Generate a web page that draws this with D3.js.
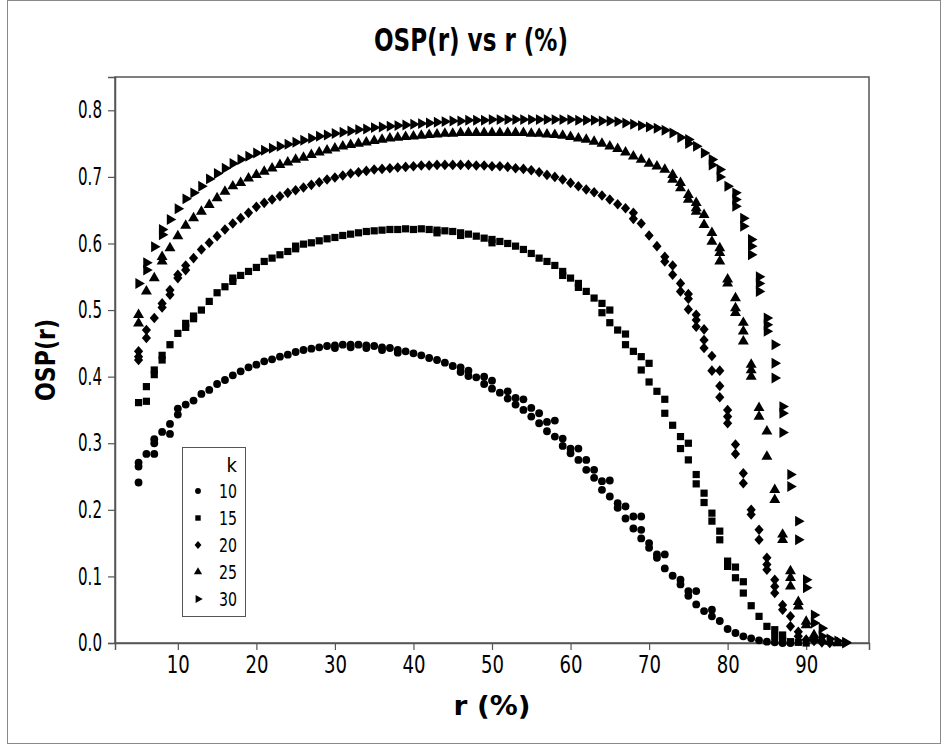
<!DOCTYPE html>
<html>
<head>
<meta charset="utf-8">
<script src="https://cdn.jsdelivr.net/npm/d3@7"></script>
<style>
  body { margin: 0; background: #fff; }
  svg text { font-family: "DejaVu Sans Condensed", "DejaVu Sans", sans-serif; font-stretch: condensed; fill: #000; }
</style>
</head>
<body>
<div id="chart"></div>
<script>
// legend groups
const kLevels = [10, 15, 20, 25, 30];
const xTicks = [10, 20, 30, 40, 50, 60, 70, 80, 90];
const yTicks = [0, 0.1, 0.2, 0.3, 0.4, 0.5, 0.6, 0.7, 0.8];

// [r (%), OSP(r)]
const osp10 = [[5,0.241],[5,0.265],[5,0.271],[6,0.284],[7,0.284],[7,0.300],[7,0.306],[8,0.317],[9,0.314],[9,0.329],[10,0.343],[10,0.352],[11,0.358],[12,0.364],[13,0.374],[14,0.380],[15,0.389],[16,0.395],[17,0.402],[18,0.408],[19,0.414],[20,0.418],[21,0.423],[22,0.426],[23,0.430],[24,0.433],[25,0.437],[26,0.440],[27,0.442],[28,0.444],[29,0.446],[30,0.447],[30,0.443],[31,0.448],[32,0.448],[32,0.444],[33,0.448],[34,0.447],[34,0.443],[35,0.446],[36,0.444],[36,0.440],[37,0.443],[38,0.440],[38,0.436],[39,0.438],[40,0.435],[41,0.432],[42,0.428],[43,0.425],[44,0.421],[45,0.416],[46,0.414],[46,0.407],[47,0.409],[47,0.401],[48,0.399],[49,0.400],[49,0.389],[50,0.394],[50,0.382],[51,0.376],[52,0.378],[52,0.367],[53,0.368],[53,0.358],[54,0.366],[54,0.350],[55,0.353],[55,0.340],[56,0.345],[56,0.330],[57,0.332],[57,0.318],[58,0.334],[58,0.310],[59,0.307],[59,0.296],[60,0.292],[60,0.285],[61,0.292],[61,0.275],[62,0.275],[62,0.260],[63,0.260],[63,0.248],[64,0.243],[64,0.230],[65,0.244],[65,0.220],[66,0.210],[66,0.203],[67,0.205],[67,0.187],[68,0.190],[68,0.172],[69,0.190],[69,0.170],[69,0.157],[70,0.150],[70,0.143],[71,0.133],[71,0.128],[72,0.133],[72,0.112],[73,0.101],[74,0.095],[74,0.088],[75,0.078],[75,0.071],[76,0.078],[76,0.058],[77,0.048],[78,0.050],[78,0.040],[79,0.033],[80,0.021],[81,0.015],[82,0.010],[83,0.007],[84,0.004],[85,0.002],[86,0.001],[87,0.000],[88,0.000]];

const osp15 = [[5,0.361],[6,0.363],[6,0.385],[7,0.403],[7,0.410],[8,0.425],[8,0.432],[9,0.448],[10,0.465],[11,0.474],[11,0.480],[12,0.487],[12,0.491],[13,0.500],[14,0.513],[15,0.526],[16,0.535],[17,0.543],[17,0.548],[18,0.552],[19,0.558],[20,0.564],[21,0.573],[22,0.578],[23,0.583],[24,0.588],[25,0.592],[25,0.596],[26,0.599],[27,0.601],[28,0.604],[29,0.607],[30,0.609],[31,0.612],[32,0.614],[33,0.616],[34,0.618],[35,0.619],[36,0.620],[37,0.621],[38,0.621],[39,0.622],[40,0.621],[41,0.622],[42,0.621],[43,0.620],[43,0.616],[44,0.619],[45,0.618],[46,0.616],[46,0.612],[47,0.614],[48,0.611],[49,0.608],[50,0.606],[50,0.601],[51,0.603],[52,0.600],[53,0.596],[54,0.591],[55,0.585],[56,0.578],[57,0.573],[58,0.567],[59,0.558],[59,0.552],[60,0.548],[61,0.540],[61,0.534],[62,0.528],[63,0.518],[64,0.510],[64,0.496],[65,0.500],[65,0.481],[66,0.470],[67,0.464],[67,0.448],[68,0.438],[69,0.430],[69,0.410],[70,0.420],[70,0.392],[71,0.378],[72,0.366],[72,0.345],[73,0.327],[74,0.310],[74,0.292],[75,0.300],[75,0.275],[76,0.253],[76,0.239],[77,0.225],[77,0.211],[78,0.195],[78,0.183],[79,0.168],[79,0.155],[80,0.123],[80,0.115],[81,0.114],[81,0.098],[82,0.092],[82,0.075],[83,0.056],[84,0.040],[85,0.025],[86,0.020],[86,0.010],[87,0.012],[87,0.004],[88,0.002],[89,0.001],[90,0.000]];

const osp20 = [[5,0.438],[5,0.430],[5,0.425],[6,0.470],[6,0.458],[7,0.488],[8,0.510],[8,0.504],[9,0.530],[9,0.523],[10,0.553],[10,0.548],[11,0.567],[11,0.560],[12,0.578],[13,0.591],[14,0.601],[15,0.611],[16,0.621],[17,0.630],[18,0.638],[19,0.646],[20,0.655],[21,0.661],[22,0.666],[23,0.671],[24,0.676],[25,0.680],[26,0.684],[27,0.688],[28,0.692],[29,0.696],[30,0.699],[31,0.702],[32,0.705],[33,0.707],[34,0.709],[35,0.711],[36,0.712],[37,0.713],[38,0.714],[39,0.715],[40,0.716],[41,0.717],[42,0.717],[43,0.718],[44,0.718],[45,0.718],[46,0.718],[47,0.718],[48,0.717],[49,0.717],[50,0.716],[51,0.716],[52,0.715],[53,0.713],[54,0.712],[55,0.710],[56,0.707],[57,0.703],[58,0.700],[59,0.696],[60,0.691],[61,0.686],[62,0.681],[63,0.677],[64,0.672],[65,0.666],[66,0.659],[67,0.653],[68,0.646],[68,0.637],[69,0.630],[70,0.612],[71,0.596],[72,0.580],[72,0.573],[73,0.567],[73,0.553],[74,0.540],[74,0.528],[75,0.524],[75,0.517],[75,0.501],[76,0.493],[76,0.485],[76,0.475],[77,0.471],[77,0.455],[77,0.443],[78,0.431],[78,0.409],[79,0.409],[79,0.386],[79,0.369],[80,0.350],[80,0.340],[80,0.330],[81,0.298],[81,0.284],[82,0.255],[82,0.240],[83,0.200],[83,0.193],[84,0.170],[84,0.155],[85,0.128],[85,0.118],[85,0.110],[86,0.095],[86,0.085],[86,0.075],[87,0.057],[87,0.050],[88,0.040],[88,0.025],[89,0.017],[89,0.010],[90,0.005],[91,0.003],[92,0.001],[93,0.000]];

const osp25 = [[5,0.493],[5,0.480],[6,0.528],[7,0.548],[8,0.580],[8,0.573],[9,0.593],[10,0.611],[11,0.627],[12,0.638],[13,0.648],[14,0.658],[15,0.668],[16,0.678],[17,0.686],[18,0.691],[19,0.698],[20,0.703],[21,0.708],[22,0.713],[23,0.718],[24,0.722],[25,0.726],[26,0.729],[27,0.733],[28,0.737],[29,0.740],[30,0.743],[31,0.746],[32,0.748],[33,0.750],[34,0.752],[35,0.754],[36,0.756],[37,0.758],[38,0.759],[39,0.760],[40,0.761],[41,0.762],[42,0.763],[43,0.764],[44,0.765],[45,0.765],[46,0.766],[47,0.766],[48,0.766],[49,0.766],[50,0.766],[51,0.766],[52,0.766],[53,0.766],[54,0.766],[55,0.765],[56,0.765],[57,0.764],[58,0.763],[59,0.762],[60,0.760],[61,0.758],[62,0.756],[63,0.753],[64,0.750],[65,0.746],[66,0.742],[67,0.737],[68,0.731],[69,0.726],[70,0.720],[71,0.716],[72,0.711],[73,0.703],[73,0.696],[74,0.691],[74,0.683],[75,0.673],[75,0.666],[76,0.661],[76,0.653],[76,0.648],[77,0.643],[77,0.628],[78,0.616],[78,0.603],[79,0.593],[79,0.586],[79,0.573],[80,0.546],[80,0.540],[81,0.518],[81,0.503],[81,0.496],[82,0.481],[82,0.468],[82,0.453],[83,0.418],[83,0.410],[83,0.400],[84,0.353],[84,0.340],[85,0.318],[85,0.280],[86,0.230],[86,0.215],[87,0.163],[87,0.155],[88,0.108],[88,0.098],[88,0.085],[89,0.062],[89,0.055],[90,0.032],[90,0.027],[91,0.012],[91,0.008],[92,0.005],[93,0.002],[94,0.000]];

const osp30 = [[5,0.540],[6,0.571],[6,0.560],[7,0.595],[8,0.621],[8,0.613],[9,0.636],[10,0.652],[11,0.667],[12,0.676],[13,0.686],[14,0.697],[15,0.705],[16,0.713],[17,0.720],[18,0.726],[19,0.731],[20,0.736],[21,0.740],[22,0.743],[23,0.746],[24,0.749],[25,0.752],[26,0.755],[27,0.758],[28,0.761],[29,0.763],[30,0.765],[31,0.767],[32,0.769],[33,0.771],[34,0.772],[35,0.774],[36,0.775],[37,0.776],[38,0.777],[39,0.778],[40,0.779],[41,0.780],[42,0.781],[43,0.782],[44,0.783],[45,0.784],[46,0.784],[47,0.785],[48,0.785],[49,0.785],[50,0.786],[51,0.786],[52,0.786],[53,0.786],[54,0.786],[55,0.786],[56,0.786],[57,0.786],[58,0.786],[59,0.786],[60,0.786],[61,0.785],[62,0.785],[63,0.785],[64,0.784],[65,0.784],[66,0.783],[67,0.781],[68,0.779],[69,0.777],[70,0.775],[71,0.773],[72,0.770],[73,0.766],[74,0.759],[75,0.756],[75,0.750],[76,0.746],[77,0.736],[78,0.726],[78,0.718],[79,0.711],[79,0.700],[80,0.686],[81,0.676],[81,0.666],[81,0.656],[82,0.638],[82,0.626],[83,0.606],[83,0.596],[83,0.583],[84,0.550],[84,0.540],[84,0.528],[85,0.488],[85,0.478],[85,0.468],[86,0.448],[86,0.420],[86,0.398],[87,0.355],[87,0.345],[87,0.316],[88,0.253],[88,0.235],[89,0.183],[89,0.155],[90,0.095],[90,0.083],[91,0.042],[91,0.030],[92,0.022],[92,0.010],[93,0.006],[94,0.003],[95,0.001],[95,0.000]];

const seriesData = [osp10, osp15, osp20, osp25, osp30];
const shapes = ['circle', 'square', 'diamond', 'triUp', 'triRight'];

const width = 942, height = 745;
const margin = { top: 77, right: 73, bottom: 102, left: 115 };

const svg = d3.select('#chart').append('svg')
    .attr('width', width)
    .attr('height', height);

// outer graph border
svg.append('rect')
    .attr('x', 7.5).attr('y', 0.5)
    .attr('width', 933).attr('height', 743)
    .attr('fill', 'none')
    .attr('stroke', '#8a8a8a');

const x = d3.scaleLinear().domain([2, 98]).range([margin.left, width - margin.right]);
const y = d3.scaleLinear().domain([0, 0.85]).range([height - margin.bottom, margin.top]);

// marker paths, s = scale factor
function markerPath(kind, s) {
    if (kind == 'circle') return d3.symbol(d3.symbolCircle, 48 * s * s)();
    if (kind == 'square') return d3.symbol(d3.symbolSquare, 52 * s * s)();
    if (kind == 'diamond') {
        const w = 4.6 * s, h = 5.3 * s;
        return 'M0,' + (-h) + 'L' + w + ',0L0,' + h + 'L' + (-w) + ',0Z';
    }
    // triangles
    return d3.symbol(d3.symbolTriangle, 52 * s * s)();
}

function markerTransform(kind, px, py) {
    return 'translate(' + px + ',' + py + ')' + (kind == 'triRight' ? ' rotate(90)' : '');
}

// plot frame
svg.append('rect')
    .attr('x', margin.left).attr('y', margin.top)
    .attr('width', width - margin.left - margin.right)
    .attr('height', height - margin.top - margin.bottom)
    .attr('fill', 'none')
    .attr('stroke', '#555')
    .attr('stroke-width', 1.5);

// axes
const xAxis = svg.append('g')
    .attr('transform', 'translate(0,' + (height - margin.bottom) + ')')
    .call(d3.axisBottom(x).tickValues(xTicks).tickSize(7).tickPadding(6).tickFormat(d3.format('d')));
const yAxis = svg.append('g')
    .attr('transform', 'translate(' + margin.left + ',0)')
    .call(d3.axisLeft(y).tickValues(yTicks).tickSize(7).tickPadding(6).tickFormat(d3.format('.1f')));

[xAxis, yAxis].forEach(ax => {
    ax.attr('font-family', null);
    ax.select('.domain').attr('stroke', '#555').attr('stroke-width', 1.5);
    ax.selectAll('.tick line').attr('stroke', '#555').attr('stroke-width', 1.2);
    ax.selectAll('.tick text').attr('fill', '#000').style('font-size', '24px');
});
// the reference font is tall and narrow
xAxis.selectAll('.tick text').attr('textLength', 23).attr('lengthAdjust', 'spacingAndGlyphs');
yAxis.selectAll('.tick text').attr('textLength', 24).attr('lengthAdjust', 'spacingAndGlyphs');

// points
seriesData.forEach((pts, i) => {
    const kind = shapes[i];
    svg.append('g')
        .attr('class', 'series-' + kLevels[i])
        .selectAll('path')
        .data(pts)
        .enter()
        .append('path')
        .attr('d', markerPath(kind, 1))
        .attr('transform', d => markerTransform(kind, x(d[0]), y(d[1])))
        .attr('fill', '#000');
});

// title + axis labels
svg.append('text')
    .attr('x', 471).attr('y', 51)
    .attr('text-anchor', 'middle')
    .style('font-size', '32px').attr('font-weight', 'bold')
    .attr('textLength', 194).attr('lengthAdjust', 'spacingAndGlyphs')
    .text('OSP(r) vs r (%)');

svg.append('text')
    .attr('x', (margin.left + width - margin.right) / 2).attr('y', 715)
    .attr('text-anchor', 'middle')
    .style('font-size', '27px').attr('font-weight', 'bold')
    .attr('textLength', 77).attr('lengthAdjust', 'spacingAndGlyphs')
    .text('r (%)');

svg.append('text')
    .attr('transform', 'translate(55,' + ((margin.top + height - margin.bottom) / 2) + ') rotate(-90)')
    .attr('text-anchor', 'middle')
    .style('font-size', '27px').attr('font-weight', 'bold')
    .attr('textLength', 82).attr('lengthAdjust', 'spacingAndGlyphs')
    .text('OSP(r)');

// legend
const legend = svg.append('g').attr('transform', 'translate(182,447)');
legend.append('rect')
    .attr('x', 0.5).attr('y', 0.5)
    .attr('width', 63).attr('height', 169)
    .attr('fill', '#fff')
    .attr('stroke', '#555');
legend.append('text')
    .attr('x', 55).attr('y', 25)
    .attr('text-anchor', 'end')
    .style('font-size', '20px')
    .text('k');
kLevels.forEach((k, i) => {
    const cy = 44 + i * 27;
    legend.append('path')
        .attr('d', markerPath(shapes[i], 0.75))
        .attr('transform', markerTransform(shapes[i], 16, cy))
        .attr('fill', '#000');
    legend.append('text')
        .attr('x', 55).attr('y', cy + 7)
        .attr('text-anchor', 'end')
        .style('font-size', '20px')
        .attr('textLength', 18).attr('lengthAdjust', 'spacingAndGlyphs')
        .text(k);
});
</script>
</body>
</html>
